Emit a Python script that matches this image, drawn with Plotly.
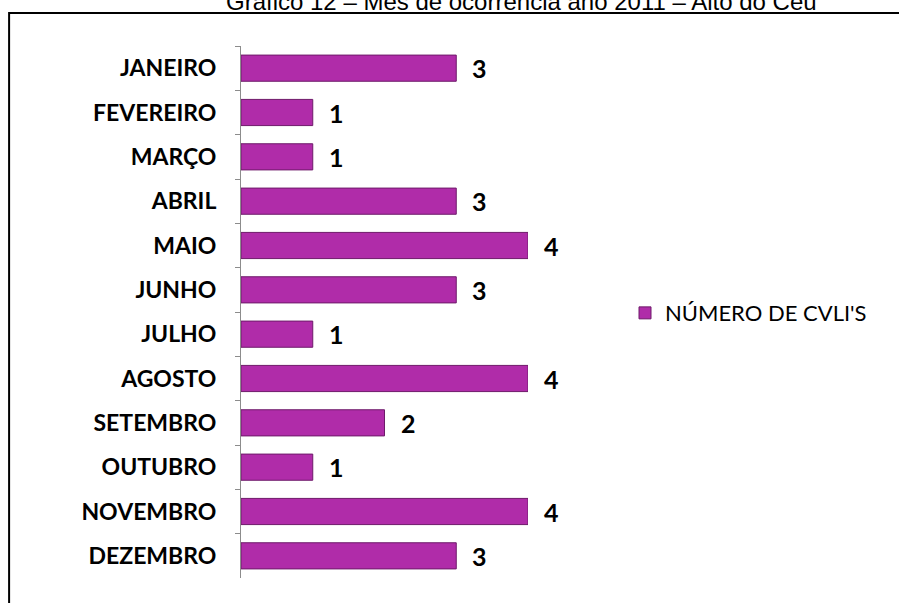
import plotly.graph_objects as go

meses = ["JANEIRO", "FEVEREIRO", "MARÇO", "ABRIL", "MAIO", "JUNHO",
         "JULHO", "AGOSTO", "SETEMBRO", "OUTUBRO", "NOVEMBRO", "DEZEMBRO"]
cvlis = [3, 1, 1, 3, 4, 3, 1, 4, 2, 1, 4, 3]

titulo = "Gráfico 12 – Mês de ocorrência ano 2011 – Alto do Céu"
serie = "NÚMERO DE CVLI'S"

fig = go.Figure()
fig.add_trace(go.Bar(
    x=cvlis, y=meses, orientation="h", name=serie,
    marker=dict(color="#B02CA9", line=dict(color="#6E1A6A", width=1)),
    showlegend=True,
))

# value labels next to each bar
for m, v in zip(meses, cvlis):
    fig.add_annotation(x=v, y=m, text=str(v), showarrow=False,
                       xanchor="left", xshift=14,
                       font=dict(family="Lato", size=25, color="black", weight="bold"))

# chart title (cut off at top of the picture, like the scan)
fig.add_annotation(xref="paper", yref="paper", x=0.977, y=1.0545, yanchor="bottom",
                   xanchor="center", text=titulo, showarrow=False,
                   font=dict(family="Liberation Sans", size=24, color="black"))

# outer border of the chart box
fig.add_shape(type="rect", xref="paper", yref="paper",
              x0=-0.808, x1=3, y0=-0.3, y1=1.062,
              line=dict(color="black", width=2))

fig.update_layout(
    width=899, height=603,
    margin=dict(l=241, r=371, t=46, b=25),
    plot_bgcolor="white", paper_bgcolor="white",
    bargap=0.41,
    xaxis=dict(range=[0, 4], visible=False),
    yaxis=dict(autorange="reversed", tickson="boundaries", ticks="outside",
               ticklen=5, tickcolor="#8C8C8C", showline=True, linecolor="#8C8C8C",
               linewidth=1, showgrid=False, ticklabelstandoff=19,
               tickfont=dict(family="Lato", size=23, color="black", weight="bold")),
    legend=dict(x=1.338, y=0.498, yanchor="middle", xanchor="left",
                font=dict(family="Lato", size=22, color="black"),
                itemwidth=30, bgcolor="rgba(0,0,0,0)"),
)

fig.write_html("out.html", config={"displayModeBar": False},
               post_script="document.body.style.margin='0';")
